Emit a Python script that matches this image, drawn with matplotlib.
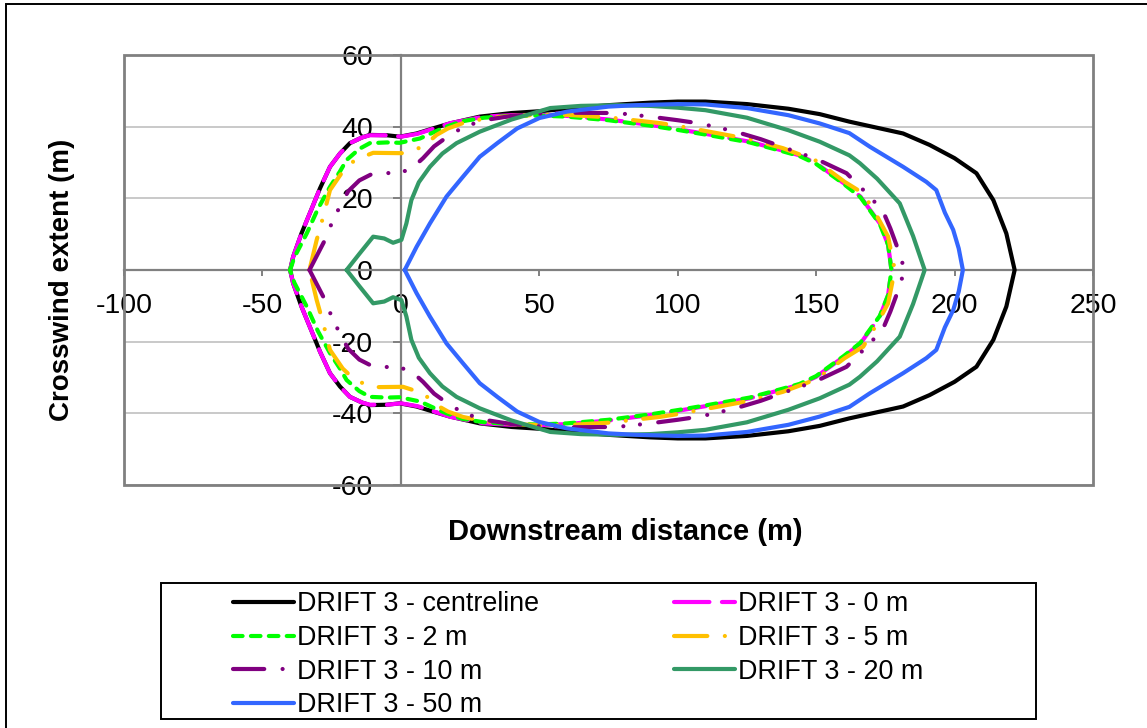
import numpy as np
import matplotlib
matplotlib.use("Agg")
import matplotlib.pyplot as plt
from matplotlib.patches import Rectangle

plt.rcParams['font.family'] = ['Liberation Sans', 'DejaVu Sans']
plt.rcParams['axes.unicode_minus'] = False

# ---- data (upper half of each footprint; lower half is its mirror) ----
labels = ["DRIFT 3 - centreline", "DRIFT 3 - 0 m", "DRIFT 3 - 2 m", "DRIFT 3 - 5 m",
          "DRIFT 3 - 10 m", "DRIFT 3 - 20 m", "DRIFT 3 - 50 m"]

cl_x = [-40, -38.9, -35.9, -32, -29.2, -25.6, -22, -18.4, -14, -11.2, -5, -0.4, 5.7, 12, 17.7, 28.5, 40, 50, 60, 75, 90, 100, 110, 125, 140, 151.3, 162, 181.4, 191, 200, 207.9, 214, 218.7, 221.7]
cl_y = [0, 3.7, 10.2, 17.5, 22.8, 28.8, 32.5, 35.4, 37, 37.7, 37.6, 37.2, 38.1, 39.6, 40.9, 42.8, 43.8, 44.3, 45.0, 46.0, 46.7, 47.0, 47.0, 46.3, 45.0, 43.5, 41.4, 38.1, 34.9, 31.2, 27, 19.5, 10.2, 0]

m0_x = [-40, -38.9, -35.9, -32, -29.2, -25.6, -22, -18.4, -14, -11.2, -5, 0, 6, 12, 18, 30, 40, 50, 60, 75, 90, 100, 110, 126, 138, 144, 150, 160, 166, 173, 176, 177.2]
m0_y = [0, 3.7, 10.2, 17.5, 22.8, 28.8, 32.5, 35.4, 37, 37.6, 37.6, 37.2, 38, 39.5, 41, 42.8, 43.2, 43.3, 43, 42, 40.5, 39.3, 38, 35.8, 33.3, 32, 29.8, 24.2, 20.5, 13, 7, 0]

m2_x = [-40, -38.5, -34, -30, -25.6, -22, -19.6, -15, -11.2, -5, -0.4, 6.9, 12, 16.5, 22, 30, 40, 50, 60, 75, 90, 100, 110, 126, 138, 144, 150, 160, 166, 173, 176, 177.2]
m2_y = [0, 3.5, 10.2, 17, 23.2, 27.5, 30.7, 33.8, 35.4, 35.6, 35.5, 36.7, 38.5, 40, 41.5, 42.5, 43, 43.1, 42.8, 41.8, 40.3, 39.1, 37.8, 35.6, 33.1, 31.8, 29.6, 24, 20.3, 12.8, 7, 0]

m5_x = [-33, -30.4, -28, -25.6, -21, -16.6, -10, 0.8, 8, 12.9, 17, 22.4, 30, 40, 50, 60, 75, 93.5, 100, 110, 126, 138, 150, 160.3, 167, 172, 176, 178.4]
m5_y = [0, 8.4, 15, 22.3, 27.5, 30.7, 32.7, 32.6, 34.4, 37.7, 39.5, 41, 42.2, 43, 43.3, 43.3, 42.6, 41, 40.2, 38.8, 36.5, 34, 30.5, 24.6, 21.4, 15, 9.3, 0]

m10_x = [-33, -30, -27.4, -25, -22, -19, -15, -9.4, -2.8, 3.3, 8, 12, 17.7, 23, 30, 40, 50, 60, 78, 90, 100, 108, 120, 130, 138, 150, 161, 169.4, 174.2, 176.8, 179, 182]
m10_y = [0, 4.5, 8.4, 13, 17.8, 22, 25, 27.2, 27, 27.9, 31.2, 34.5, 37.7, 40, 41.8, 43, 43.6, 43.9, 43.8, 42.8, 41.8, 40.9, 38.8, 36.5, 34.3, 31, 27, 20.5, 16.3, 11.6, 7, 0]

m20_x = [-19.6, -15, -10, -6, -2.8, 0.2, 2, 3.8, 6.5, 10.5, 15, 20.1, 28.5, 40, 54, 65, 78, 90, 100, 110, 125, 140, 151.3, 162, 165.8, 172, 180.2, 185, 189.2]
m20_y = [0, 4.5, 9.3, 8.8, 7.6, 8.4, 13, 19.5, 24.5, 28.8, 32.5, 35.4, 38.6, 42, 45.2, 45.8, 46, 45.8, 45.3, 44.6, 42.5, 39, 35.8, 32, 29.8, 25.5, 18.6, 9.5, 0]

m50_x = [1.4, 5.7, 10.5, 16.5, 22.4, 28.5, 35, 42, 50, 60, 75, 85, 100, 110, 125, 140, 151.3, 162, 169.4, 181.4, 189.8, 193.4, 196.5, 199.5, 201.5, 203]
m50_y = [0, 6.5, 13, 20.5, 26, 31.6, 35.5, 39.5, 42.4, 44.2, 45.6, 46, 46.3, 46.2, 45.2, 43.2, 40.9, 38.2, 34.4, 28.8, 24.6, 22.3, 16, 11.2, 6, 0]

xs = [cl_x, m0_x, m2_x, m5_x, m10_x, m20_x, m50_x]
ys = [cl_y, m0_y, m2_y, m5_y, m10_y, m20_y, m50_y]

colors = ["#000000", "#FF00FF", "#00FF00", "#FFC000", "#800080", "#339966", "#3366FF"]
dashes = [None, (8.5, 3.0), (2.3, 2.0), (8.0, 4.2, 0.01, 4.2), (7.5, 4.4, 0.01, 4.0, 0.01, 4.4), None, None]

W, H = 1147, 728
fig = plt.figure(figsize=(W / 100, H / 100), dpi=100)

def fx(px):
    return px / W

def fy(py):
    return 1 - py / H

ax = fig.add_axes([fx(124), fy(485), fx(1093) - fx(124), fy(55) - fy(485)])
ax.set_xlim(-100, 250)
ax.set_ylim(-60, 60)

lw = 3.0
handles = []
for x, y, c, d, lab in zip(xs, ys, colors, dashes, labels):
    x = np.asarray(x, float)
    y = np.asarray(y, float)
    X = np.concatenate([x, x[::-1]])
    Y = np.concatenate([y, -y[::-1]])
    ln, = ax.plot(X, Y, color=c, lw=lw, label=lab, solid_capstyle='round',
                  dash_capstyle='round', solid_joinstyle='round', dash_joinstyle='round', zorder=3)
    if d is not None:
        ln.set_dashes(d)
    handles.append(ln)

# axes styling
ax.set_xticks(np.arange(-100, 251, 50))
ax.set_yticks(np.arange(-60, 61, 20))
ax.yaxis.grid(True, color="#c0c0c0", lw=1.2, zorder=0)
ax.set_axisbelow(True)
for s in ['top', 'right']:
    ax.spines[s].set_visible(False)
ax.spines['left'].set_position(('data', 0))
ax.spines['bottom'].set_position(('data', 0))
for s in ['left', 'bottom']:
    ax.spines[s].set_color("#808080")
    ax.spines[s].set_linewidth(1.6)
    ax.spines[s].set_zorder(2)
ax.add_patch(Rectangle((0, 0), 1, 1, transform=ax.transAxes, fill=False,
                       edgecolor="#808080", lw=2, clip_on=False, zorder=4))
ax.tick_params(axis='x', direction='out', length=4, width=1.4, color="#808080",
               labelsize=20.5, pad=12.5)
ax.tick_params(axis='y', direction='out', length=6, width=1.4, color="#808080",
               labelsize=20.5, pad=14)

fig.text(fx(625), fy(532), "Downstream distance (m)", ha='center', va='center',
         fontsize=21, fontweight='bold')
fig.text(fx(62), fy(280), "Crosswind extent (m)", ha='center', va='center',
         fontsize=20, fontweight='bold', rotation=90)

# legend (column-wise order for ncol=2 to give row-wise reading)
order = [0, 2, 4, 6, 1, 3, 5]
leg = fig.legend([handles[i] for i in order], [labels[i] for i in order], ncol=2,
                 frameon=False, loc='upper left', bbox_to_anchor=(fx(228), fy(586)),
                 borderaxespad=0, fontsize=19.4, handlelength=2.25, handletextpad=0.12,
                 labelspacing=0.285, columnspacing=5.0, borderpad=0.2)
fig.patches.append(Rectangle((fx(161), fy(719)), fx(1036) - fx(161), fy(583) - fy(719),
                             transform=fig.transFigure, fill=False, edgecolor='black', lw=1.4))
# outer chart border
fig.patches.append(Rectangle((fx(6), fy(740)), fx(1160) - fx(6), fy(4) - fy(740),
                             transform=fig.transFigure, fill=False, edgecolor='black', lw=1.4,
                             clip_on=False))

fig.savefig("out.png", dpi=100)
